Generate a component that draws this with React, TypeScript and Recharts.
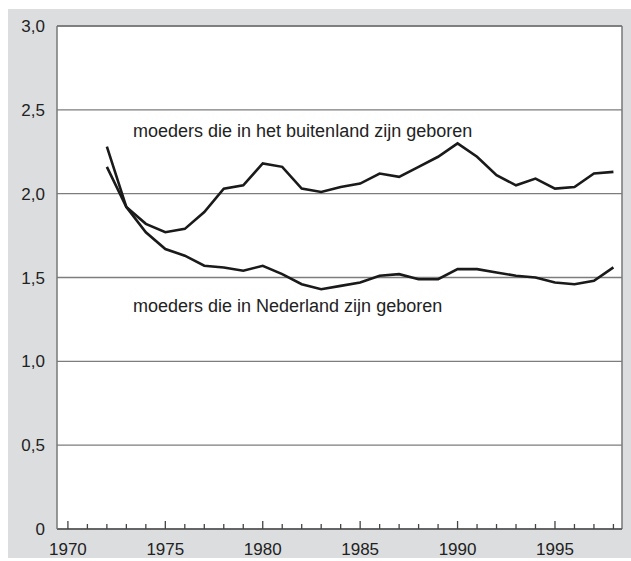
import { LineChart, Line, XAxis, YAxis, CartesianGrid, ReferenceLine } from 'recharts'

const years = [1972, 1973, 1974, 1975, 1976, 1977, 1978, 1979, 1980, 1981, 1982, 1983, 1984, 1985,
  1986, 1987, 1988, 1989, 1990, 1991, 1992, 1993, 1994, 1995, 1996, 1997, 1998]

// moeders die in het buitenland zijn geboren
const buitenland = [2.28, 1.92, 1.82, 1.77, 1.79, 1.89, 2.03, 2.05, 2.18, 2.16, 2.03, 2.01, 2.04, 2.06,
  2.12, 2.10, 2.16, 2.22, 2.30, 2.22, 2.11, 2.05, 2.09, 2.03, 2.04, 2.12, 2.13]

// moeders die in Nederland zijn geboren
const nederland = [2.16, 1.92, 1.77, 1.67, 1.63, 1.57, 1.56, 1.54, 1.57, 1.52, 1.46, 1.43, 1.45, 1.47,
  1.51, 1.52, 1.49, 1.49, 1.55, 1.55, 1.53, 1.51, 1.50, 1.47, 1.46, 1.48, 1.56]

const xTicks = [1970, 1971, 1972, 1973, 1974, 1975, 1976, 1977, 1978, 1979, 1980, 1981, 1982, 1983, 1984,
  1985, 1986, 1987, 1988, 1989, 1990, 1991, 1992, 1993, 1994, 1995, 1996, 1997, 1998]
const yTicks = [0, 0.5, 1, 1.5, 2, 2.5, 3]

const data = years.map((year, i) => ({ year, buitenland: buitenland[i], nederland: nederland[i] }))

const FONT = '"Liberation Sans", Arial, sans-serif'
const X_MIN = 1969.44
const X_MAX = 1998.44

const YearTick = ({ x, y, payload }: any) => {
  const major = payload.value % 5 === 0
  return (
    <g>
      <line x1={x} x2={x} y1={y} y2={y - (major ? 8 : 5)} stroke="#444" strokeWidth={1.3} />
      {major && (
        <text x={x} y={y + 25.5} textAnchor="middle" fontSize={17} fill="#222" fontFamily={FONT}>
          {payload.value}
        </text>
      )}
    </g>
  )
}

const fmtY = (v: number) => (v === 0 ? '0' : v.toFixed(1).replace('.', ','))

export default function App() {
  return (
    <div style={{ position: 'absolute', left: 0, top: 0, width: 631, height: 561, background: '#fff' }}>
      <div style={{ position: 'absolute', left: 8, top: 9, width: 623, height: 549, background: '#dcdddf' }} />
      <div style={{ position: 'absolute', left: 0, top: 0 }}>
        <LineChart width={631} height={561} data={data} margin={{ top: 26, right: 9, bottom: 0, left: 0 }}>
          <CartesianGrid vertical={false} stroke="#7d7d7d" strokeWidth={1.3} fill="#fff" />
          <XAxis
            dataKey="year"
            type="number"
            domain={[X_MIN, X_MAX]}
            ticks={xTicks}
            interval={0}
            height={32}
            tickSize={0}
            tickMargin={0}
            tickLine={false}
            tick={<YearTick />}
            axisLine={{ stroke: '#555', strokeWidth: 1.5 }}
          />
          <YAxis
            type="number"
            domain={[0, 3]}
            ticks={yTicks}
            width={57}
            tickSize={0}
            tickMargin={12}
            tickLine={false}
            tickFormatter={fmtY}
            tick={{ fontSize: 17, fill: '#222', fontFamily: FONT }}
            axisLine={{ stroke: '#777', strokeWidth: 1.5 }}
          />
          <ReferenceLine y={3} stroke="#777" strokeWidth={1.5} />
          <ReferenceLine x={X_MAX} stroke="#777" strokeWidth={1.5} />
          <Line type="linear" dataKey="buitenland" stroke="#1a1a1a" strokeWidth={2.6} dot={false} isAnimationActive={false} />
          <Line type="linear" dataKey="nederland" stroke="#1a1a1a" strokeWidth={2.6} dot={false} isAnimationActive={false} />
        </LineChart>
      </div>
      <svg width={631} height={561} style={{ position: 'absolute', left: 0, top: 0, pointerEvents: 'none' }}>
        <text x={133} y={137} fontSize={18} fill="#222" fontFamily={FONT}>
          moeders die in het buitenland zijn geboren
        </text>
        <text x={133} y={312} fontSize={18} fill="#222" fontFamily={FONT}>
          moeders die in Nederland zijn geboren
        </text>
      </svg>
    </div>
  )
}
